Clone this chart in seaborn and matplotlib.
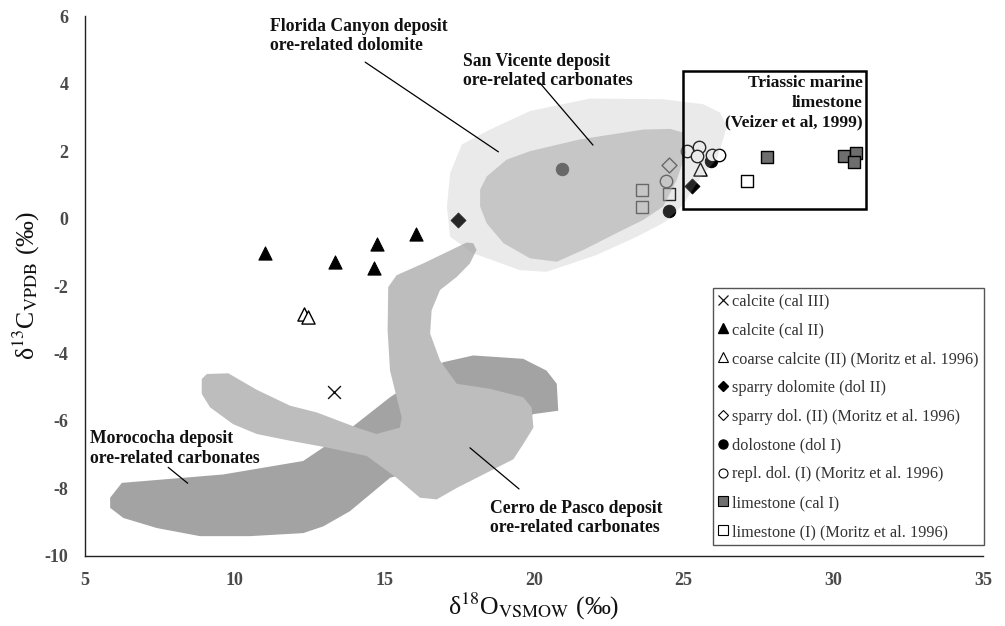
import numpy as np
import pandas as pd
import matplotlib
matplotlib.use("Agg")
import matplotlib.pyplot as plt
from matplotlib.lines import Line2D
from matplotlib.ticker import MultipleLocator
import seaborn as sns

# ---------------- data ----------------
cal3_x = [13.32]
cal3_y = [-5.13]
cal2_x = [11.0, 13.35, 14.75, 14.65, 16.05]
cal2_y = [-1.03, -1.28, -0.76, -1.47, -0.47]
coarse_x = [12.33, 12.44, 25.53]
coarse_y = [-2.83, -2.91, 1.47]
dol2_x = [17.45, 25.29]
dol2_y = [-0.04, 0.98]
sdol_x = [24.51]
sdol_y = [1.59]
dol1_x = [20.93, 24.51, 25.92]
dol1_y = [1.46, 0.23, 1.71]
repl_x = [25.12, 25.51, 25.44, 25.96, 26.18, 24.40]
repl_y = [2.01, 2.11, 1.87, 1.89, 1.89, 1.12]
lime1_x = [27.77, 30.37, 30.76, 30.69]
lime1_y = [1.84, 1.86, 1.94, 1.69]
limeM_x = [23.60, 24.51, 23.60, 27.11]
limeM_y = [0.85, 0.72, 0.34, 1.12]

series_labels = ["calcite (cal III)", "calcite (cal II)",
                 "coarse calcite (II) (Moritz et al. 1996)",
                 "sparry dolomite (dol II)", "sparry dol. (II) (Moritz et al. 1996)",
                 "dolostone (dol I)", "repl. dol. (I) (Moritz et al. 1996)",
                 "limestone (cal I)", "limestone (I) (Moritz et al. 1996)"]

# field outlines (d18O, d13C)
florida_x = [17.59, 18.53, 19.87, 21.87, 24.32, 25.66, 26.22, 26.44, 26.32, 26.10,
             25.55, 24.98, 24.38, 23.43, 22.09, 20.42, 19.53, 17.97, 17.20, 17.09, 17.20]
florida_y = [2.20, 2.64, 3.19, 3.56, 3.54, 3.39, 3.14, 2.74, 2.35, 1.75,
             1.20, 0.41, -0.10, -0.54, -1.08, -1.58, -1.53, -1.03, -0.54, 0.36, 1.35]
sanv_x = [18.20, 18.42, 19.09, 19.87, 21.54, 23.65, 24.55, 24.99, 25.08, 24.77,
          24.32, 23.65, 22.76, 21.65, 20.76, 19.87, 18.98, 18.42, 18.20]
sanv_y = [0.86, 1.25, 1.75, 2.00, 2.35, 2.64, 2.66, 2.55, 1.95, 1.15,
          0.36, -0.04, -0.43, -0.93, -1.28, -1.18, -0.73, -0.14, 0.36]
cerro_x = [17.97, 18.08, 17.86, 17.42, 16.86, 16.58, 16.53, 16.86, 17.42, 18.53,
           19.64, 19.92, 19.98, 19.64, 19.31, 18.53, 17.42, 16.75, 16.19, 15.41,
           14.41, 13.08, 11.85, 10.74, 9.95, 9.18, 8.90, 8.90, 9.07, 9.79,
           10.74, 11.85, 12.74, 14.08, 14.74, 15.52, 15.58, 15.19, 15.11, 15.13,
           15.41, 16.30, 17.75]
cerro_y = [-0.73, -0.93, -1.33, -1.73, -2.12, -2.72, -3.41, -4.21, -4.90, -5.05,
           -5.30, -5.60, -6.20, -6.69, -7.14, -7.49, -7.99, -8.33, -8.28, -7.69,
           -7.04, -6.79, -6.59, -6.39, -6.10, -5.60, -5.20, -4.76, -4.61, -4.59,
           -5.08, -5.55, -5.75, -6.20, -6.39, -6.20, -5.90, -4.51, -3.32, -2.03,
           -1.68, -1.33, -0.71]
moro_x = [5.84, 6.23, 9.62, 12.29, 13.63, 15.19, 16.97, 17.97, 19.64, 20.42,
          20.76, 20.81, 19.98, 18.5, 16.5, 15.19, 13.85, 12.96, 12.29, 10.51,
          8.84, 7.40, 6.28, 5.84]
moro_y = [-8.28, -7.84, -7.59, -7.19, -6.39, -5.30, -4.26, -4.06, -4.16, -4.51,
          -4.90, -5.70, -5.80, -6.55, -7.35, -7.69, -8.68, -9.13, -9.33, -9.42,
          -9.42, -9.18, -8.88, -8.58]

box_x = [24.97, 31.09]
box_y = [0.28, 4.39]

x_ticks = [5, 10, 15, 20, 25, 30, 35]
y_ticks = [-10, -8, -6, -4, -2, 0, 2, 4, 6]

# ---------------- style ----------------
sns.set_style("white")
plt.rcParams["font.family"] = ["Liberation Serif", "DejaVu Serif"]
plt.rcParams["mathtext.fontset"] = "stix"
plt.rcParams["axes.unicode_minus"] = False

fig = plt.figure(figsize=(10.05, 6.26), dpi=100)
ax = fig.add_axes([85 / 1005, 1 - 555.7 / 626, 898 / 1005, 539.4 / 626])

# base fields (opaque, below points)
ax.fill(moro_x, moro_y, color="#a3a3a3", lw=0, zorder=1)
ax.fill(cerro_x, cerro_y, color="#bdbdbd", lw=0, zorder=1.1)

ms = 80
common = dict(ax=ax, zorder=2, legend=False)
sns.scatterplot(x=cal3_x, y=cal3_y, marker="x", color="#111111", s=85, linewidth=1.0, **common)
sns.scatterplot(x=cal2_x, y=cal2_y, marker="^", color="black", edgecolor="black", s=90, **common)
sns.scatterplot(x=coarse_x, y=coarse_y, marker="^", facecolor="white", edgecolor="black",
                s=90, linewidth=1.0, **common)
sns.scatterplot(x=dol2_x, y=dol2_y, marker="D", color="black", edgecolor="black", s=58, **common)
sns.scatterplot(x=sdol_x, y=sdol_y, marker="D", facecolor="white", edgecolor="black",
                s=58, linewidth=1.0, **common)
sns.scatterplot(x=dol1_x, y=dol1_y, marker="o", color="black", edgecolor="black", s=ms, **common)
sns.scatterplot(x=repl_x, y=repl_y, marker="o", facecolor="white", edgecolor="black",
                s=ms, linewidth=1.0, **common)
sns.scatterplot(x=lime1_x, y=lime1_y, marker="s", color="#6e6e6e", edgecolor="black",
                s=ms, linewidth=1.0, **common)
sns.scatterplot(x=limeM_x, y=limeM_y, marker="s", facecolor="white", edgecolor="black",
                s=ms, linewidth=1.0, **common)

# translucent fields over the points
ax.fill(florida_x, florida_y, color="#a6a6a6", alpha=0.23, lw=0, zorder=3)
ax.fill(sanv_x, sanv_y, color="#a6a6a6", alpha=0.52, lw=0, zorder=3.1)

# Triassic box
ax.add_patch(plt.Rectangle((box_x[0], box_y[0]), box_x[1] - box_x[0], box_y[1] - box_y[0],
                           fill=False, edgecolor="black", lw=1.8, zorder=4))

# annotations
tkw = dict(fontsize=12.7, fontweight="bold", color="#111111", zorder=5)
ax.text(11.18, 5.42, "Florida Canyon deposit\nore-related dolomite", ha="left", va="center",
        linespacing=1.2, **tkw)
ax.plot([14.36, 18.81], [4.64, 1.98], color="black", lw=0.9, zorder=5)
ax.text(17.63, 4.38, "San Vicente deposit\nore-related carbonates", ha="left", va="center",
        linespacing=1.2, **tkw)
ax.plot([20.20, 21.97], [4.02, 2.18], color="black", lw=0.9, zorder=5)
ax.text(30.99, 3.43, "Triassic marine\nlimestone\n(Veizer et al, 1999)", ha="right", va="center",
        multialignment="right", linespacing=1.3, fontsize=12.5, fontweight="bold",
        color="#111111", zorder=5)
ax.text(5.17, -6.82, "Morococha deposit\nore-related carbonates", ha="left", va="center",
        linespacing=1.2, **tkw)
ax.plot([7.78, 8.43], [-7.38, -7.85], color="black", lw=0.9, zorder=5)
ax.text(18.53, -8.88, "Cerro de Pasco deposit\nore-related carbonates", ha="left", va="center",
        linespacing=1.2, **tkw)
ax.plot([17.86, 19.50], [-6.80, -8.02], color="black", lw=0.9, zorder=5)

# axes
ax.set_xlim(5, 35)
ax.set_ylim(-10, 6)
ax.set_xticks(x_ticks)
ax.set_yticks(y_ticks)
ax.xaxis.set_minor_locator(MultipleLocator(1))
ax.yaxis.set_minor_locator(MultipleLocator(1))
sns.despine(ax=ax)
for sp in ["left", "bottom"]:
    ax.spines[sp].set_color("#222222")
    ax.spines[sp].set_linewidth(1.0)
ax.tick_params(which="major", direction="out", length=6, width=1, color="#222222",
               labelsize=13, labelcolor="#4a4a4a", pad=6)
ax.tick_params(which="minor", direction="out", length=4, width=1, color="#222222")
for lab in ax.get_xticklabels() + ax.get_yticklabels():
    lab.set_fontweight("bold")

ax.set_xlabel("δ$^{18}$O$_{\\mathrm{VSMOW}}$ (‰)", fontsize=18.5, color="#111111", labelpad=1)
ax.set_ylabel("δ$^{13}$C$_{\\mathrm{VPDB}}$ (‰)", fontsize=18.5, color="#111111", labelpad=2)

# legend
hk = dict(linestyle="none", markersize=6.5)
handles = [
    Line2D([], [], marker="x", color="#111111", markeredgewidth=0.9, **hk),
    Line2D([], [], marker="^", color="black", **hk),
    Line2D([], [], marker="^", markerfacecolor="white", markeredgecolor="black", markeredgewidth=0.8, **hk),
    Line2D([], [], marker="D", color="black", linestyle="none", markersize=5),
    Line2D([], [], marker="D", markerfacecolor="white", markeredgecolor="black", markeredgewidth=0.8,
           linestyle="none", markersize=5),
    Line2D([], [], marker="o", color="black", **hk),
    Line2D([], [], marker="o", markerfacecolor="white", markeredgecolor="black", markeredgewidth=0.8, **hk),
    Line2D([], [], marker="s", markerfacecolor="#6e6e6e", markeredgecolor="black", markeredgewidth=0.8, **hk),
    Line2D([], [], marker="s", markerfacecolor="white", markeredgecolor="black", markeredgewidth=0.8, **hk),
]
leg = ax.legend(handles, series_labels, loc="upper left", bbox_to_anchor=(0.699, 0.4955),
                borderaxespad=0, fontsize=11.7, frameon=True, fancybox=False,
                framealpha=1, edgecolor="#555555", handlelength=0.7, handletextpad=0.2,
                labelspacing=0.79, borderpad=0.3)
leg.get_frame().set_linewidth(1.0)
leg.set_zorder(6)
for t in leg.get_texts():
    t.set_color("#333333")

fig.savefig("out.png", dpi=100)
